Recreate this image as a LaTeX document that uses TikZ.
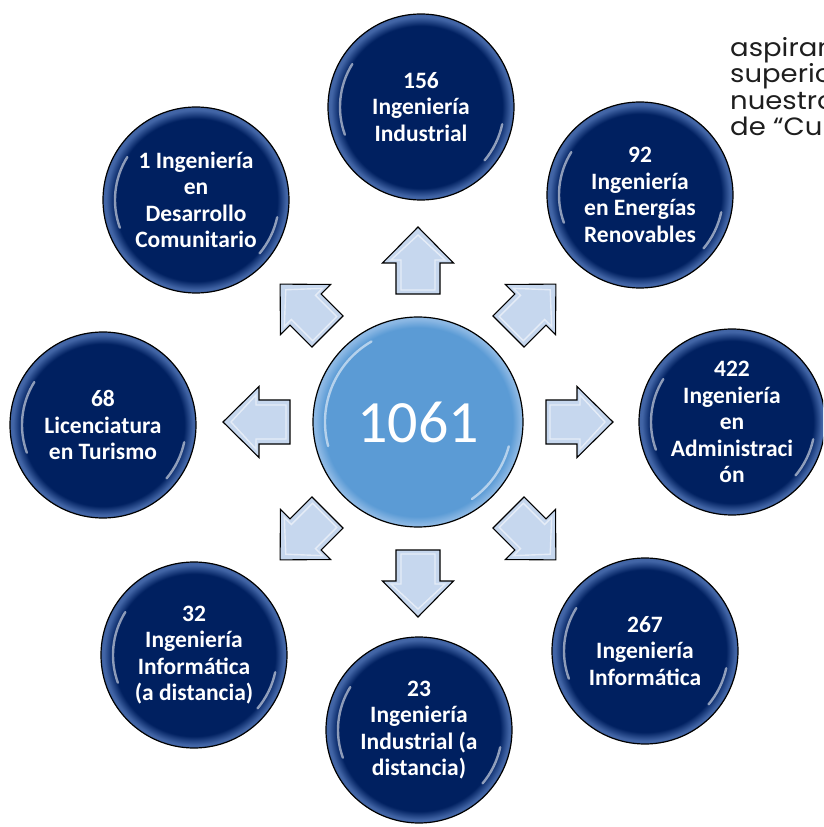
\documentclass[tikz,border=0pt]{standalone}
\usepackage{fontspec}
\setmainfont{Carlito}
\newfontfamily\sidefont[FakeStretch=1.1]{Poppins}
\definecolor{navy}{HTML}{002060}
\definecolor{rimblue}{HTML}{4265A6}
\definecolor{midblue}{HTML}{5B9BD5}
\definecolor{midrim}{HTML}{8CB8E4}
\definecolor{arrowfill}{HTML}{C6D7EE}
\definecolor{sidetext}{HTML}{1E1E1E}
\pgfdeclareradialshading{navyglow}{\pgfpoint{0bp}{0bp}}{color(0bp)=(navy); color(21.8bp)=(navy); color(24.2bp)=(rimblue); color(25bp)=(rimblue); color(50bp)=(rimblue)}
\pgfdeclareradialshading{centerglow}{\pgfpoint{0bp}{0bp}}{color(0bp)=(midblue); color(22.5bp)=(midblue); color(24.5bp)=(midrim); color(25bp)=(midrim); color(50bp)=(midrim)}

\begin{document}
\begin{tikzpicture}[x=1pt, y=1pt,
    course/.style={circle, draw=black, line width=1.2pt, shade, shading=navyglow, minimum size=186pt, inner sep=0pt, text=white, align=center, font=\bfseries\fontsize{23.5}{26.5}\selectfont},
    total/.style={circle, draw=black, line width=1.2pt, shade, shading=centerglow, minimum size=210pt, inner sep=0pt, text=white, font=\fontsize{60}{70}\selectfont},
    blockarrow/.style={draw=black, line width=1.1pt, fill=arrowfill, line join=miter},
    bevel/.style={white, line width=1.4pt, opacity=.55, line join=miter},
    gloss/.style={white, line cap=round, line width=2.4pt, opacity=.55}]
    \useasboundingbox (-418,-405) rectangle (405,422);
    \clip (-418,-405) rectangle (405,422);

    % centre and the eight careers
    \node[total] (sum) at (0,0){1061};
    \node[course] (ind) at (3,315){156\\Ingeniería\\Industrial};
    \node[course] (ener) at (222,227){92\\Ingeniería\\en Energías\\Renovables};
    \node[course] (adm) at (314,0){422\\Ingeniería\\en\\Administraci\\ón};
    \node[course] (inf) at (227,-229){267\\Ingeniería\\Informática};
    \node[course] (indd) at (1,-308){23\\Ingeniería\\Industrial (a\\distancia)};
    \node[course] (infd) at (-224,-233){32\\Ingeniería\\Informática\\(a distancia)};
    \node[course] (tur) at (-315,-3){68\\Licenciatura\\en Turismo};
    \node[course] (com) at (-222,222){1 Ingeniería\\en\\Desarrollo\\Comunitario};

    % block arrows pointing out from the centre
    \foreach \a in {0,45,...,315}{
        \draw[blockarrow, shift={(sum.center)}, rotate=\a] (128,-22) -- (159,-22) -- (159,-35.5) -- (195,0) -- (159,35.5) -- (159,22) -- (128,22) -- cycle;
        \draw[bevel, shift={(sum.center)}, rotate=\a] (132,-17) -- (162,-17) -- (162,-27) -- (187,0) -- (162,27) -- (162,17) -- (132,17) -- cycle;
    }

    % shine on the balls
    \foreach \n in {ind,ener,adm,inf,indd,infd,tur,com}{
        \draw[gloss] (\n.center) ++(148:81) arc[start angle=148, end angle=200, radius=81];
        \draw[gloss] (\n.center) ++(-12:83) arc[start angle=-12, end angle=-40, radius=83];
    }
    \draw[gloss] (sum.center) ++(120:93) arc[start angle=120, end angle=195, radius=93];
    \draw[gloss] (sum.center) ++(-15:94) arc[start angle=-15, end angle=-55, radius=94];

    % cut off page text on the right
    \node[anchor = base west, inner sep=0pt, align=left, text=sidetext, font=\sidefont\fontsize{25}{26.5}\selectfont] (side) at (312,286){aspiran\\superio\\nuestro\\de “Cu};
\end{tikzpicture}
\end{document}
